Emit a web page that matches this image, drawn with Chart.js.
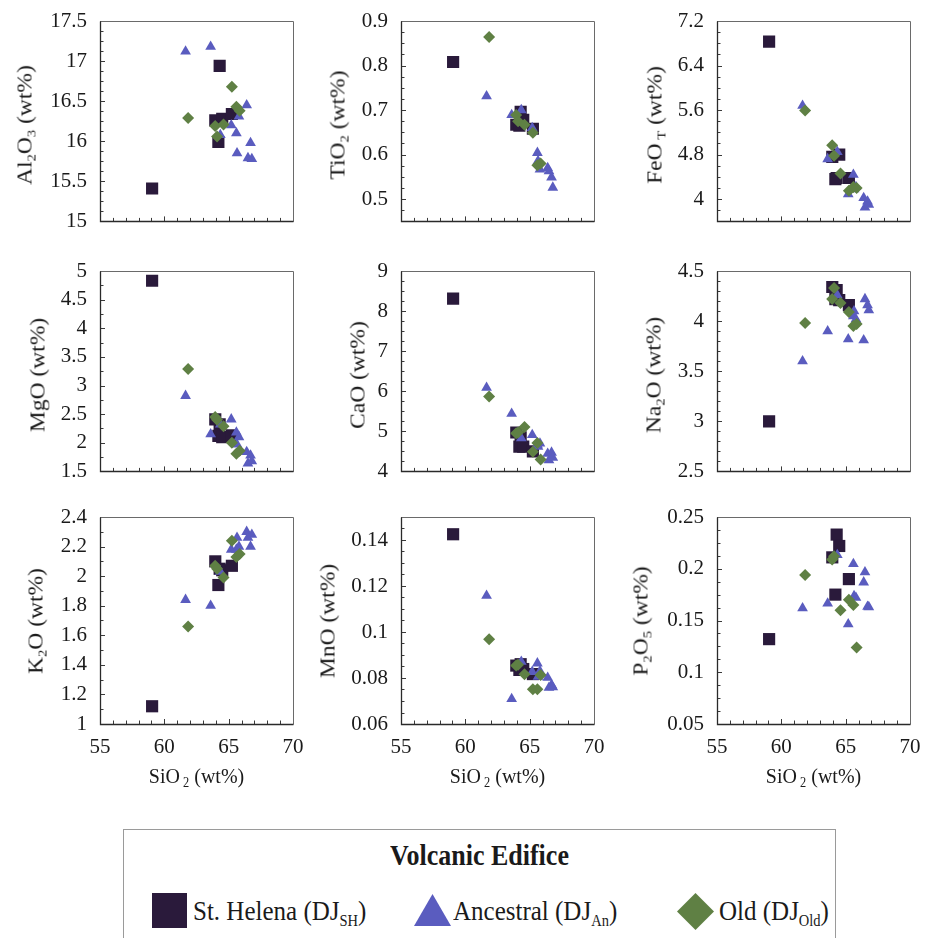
<!DOCTYPE html>
<html><head><meta charset="utf-8">
<script src="https://cdn.jsdelivr.net/npm/chart.js@4.4.1/dist/chart.umd.min.js"></script>
<style>
html,body{margin:0;padding:0;background:#fff;}
body{width:931px;height:938px;overflow:hidden;position:relative;font-family:"Liberation Serif","Times New Roman",serif;color:#1a1a1a;}
canvas.panel{position:absolute;}
.ytitle{position:absolute;white-space:nowrap;font-size:21px;line-height:1;transform:translate(-50%,-50%) rotate(-90deg) scaleX(1.12);}
.xtitle{position:absolute;white-space:nowrap;font-size:20px;line-height:1;transform:translate(-50%,-50%) scaleY(1.1);}
sub{font-size:62%;vertical-align:-0.3em;line-height:0;}
#legend{position:absolute;left:123px;top:829px;width:713px;height:140px;border:1.5px solid #9a9a9a;box-sizing:border-box;}
.ltitle{position:absolute;left:0;right:0;top:13px;text-align:center;font-weight:bold;font-size:26px;line-height:1;transform:scaleY(1.1);}
.lmark{position:absolute;}
.ltext{position:absolute;white-space:nowrap;font-size:25px;line-height:1;transform-origin:left center;transform:scaleY(1.12);}
.ltext sub{font-size:58%;vertical-align:-0.35em;}
</style>
</head><body>
<script>
// ---------- DATA ----------
const X_TICKS = [55, 60, 65, 70];

// St. Helena (DJ_SH)
const SH_SiO2  = [59.05, 63.96, 64.2, 64.3, 64.5, 65.25];
const SH_Al2O3 = [15.41, 16.26, 15.99, 16.94, 16.28, 16.34];
const SH_TiO2  = [0.808, 0.667, 0.665, 0.696, 0.678, 0.658];
const SH_FeOT  = [6.83, 4.76, 4.36, 4.38, 4.80, 4.38];
const SH_MgO   = [4.83, 2.41, 2.12, 2.32, 2.10, 2.13];
const SH_CaO   = [8.31, 4.97, 4.62, 4.85, 4.62, 4.50];
const SH_Na2O  = [3.00, 4.34, 4.22, 4.31, 4.21, 4.16];
const SH_K2O   = [1.12, 2.10, 1.94, 2.05, 2.04, 2.07];
const SH_MnO   = [0.1425, 0.0854, 0.0835, 0.0860, 0.0839, 0.0817];
const SH_P2O5  = [0.132, 0.211, 0.175, 0.233, 0.222, 0.190];

// Ancestral (DJ_An)
const AN_SiO2  = [61.65, 63.6, 64.35, 65.2, 65.6, 65.65, 65.8, 66.4, 66.5, 66.7, 66.8];
const AN_Al2O3 = [17.12, 17.18, 16.08, 16.20, 16.10, 15.85, 16.31, 16.45, 15.79, 15.98, 15.78];
const AN_TiO2  = [0.731, 0.689, 0.700, 0.660, 0.604, 0.586, 0.567, 0.570, 0.563, 0.549, 0.526];
const AN_FeOT  = [5.68, 4.72, 4.85, 4.09, 4.44, 4.18, 4.22, 4.02, 3.85, 3.96, 3.90];
const AN_MgO   = [2.82, 2.15, 2.32, 2.41, 2.18, 1.97, 2.10, 1.84, 1.64, 1.78, 1.68];
const AN_CaO   = [6.09, 5.44, 4.83, 4.91, 4.67, 4.62, 4.70, 4.44, 4.28, 4.47, 4.34];
const AN_Na2O  = [3.60, 3.90, 4.26, 3.82, 4.05, 4.10, 4.02, 3.81, 4.22, 4.16, 4.11];
const AN_K2O   = [1.84, 1.80, 2.03, 2.18, 2.18, 2.26, 2.20, 2.30, 2.26, 2.20, 2.28];
const AN_MnO   = [0.1158, 0.0709, 0.0871, 0.0827, 0.0864, 0.0806, 0.0830, 0.0801, 0.0758, 0.0770, 0.0760];
const AN_P2O5  = [0.162, 0.1665, 0.2134, 0.1464, 0.2047, 0.1736, 0.172, 0.1869, 0.1966, 0.1633, 0.163];

// Old (DJ_Old)
const OLD_SiO2  = [61.85, 63.95, 64.1, 64.6, 65.25, 65.6, 65.85];
const OLD_Al2O3 = [16.29, 16.19, 16.06, 16.21, 16.68, 16.43, 16.38];
const OLD_TiO2  = [0.864, 0.689, 0.675, 0.667, 0.649, 0.576, 0.580];
const OLD_FeOT  = [5.59, 4.97, 4.78, 4.46, 4.15, 4.22, 4.20];
const OLD_MgO   = [3.29, 2.45, 2.40, 2.29, 2.00, 1.81, 1.86];
const OLD_CaO   = [5.87, 4.95, 4.97, 5.11, 4.49, 4.71, 4.30];
const OLD_Na2O  = [3.98, 4.22, 4.33, 4.18, 4.09, 3.95, 3.97];
const OLD_K2O   = [1.66, 2.07, 2.05, 1.99, 2.24, 2.13, 2.15];
const OLD_MnO   = [0.0968, 0.0854, 0.0858, 0.0816, 0.0751, 0.0751, 0.0813];
const OLD_P2O5  = [0.194, 0.209, 0.212, 0.160, 0.170, 0.165, 0.124];

// y tick labels
const AL2O3_TICKS = [15, 15.5, 16, 16.5, 17, 17.5];
const TIO2_TICKS  = [0.5, 0.6, 0.7, 0.8, 0.9];
const FEOT_TICKS  = [4, 4.8, 5.6, 6.4, 7.2];
const MGO_TICKS   = [1.5, 2, 2.5, 3, 3.5, 4, 4.5, 5];
const CAO_TICKS   = [4, 5, 6, 7, 8, 9];
const NA2O_TICKS  = [2.5, 3, 3.5, 4, 4.5];
const K2O_TICKS   = [1, 1.2, 1.4, 1.6, 1.8, 2, 2.2, 2.4];
const MNO_TICKS   = [0.06, 0.08, 0.1, 0.12, 0.14];
const P2O5_TICKS  = [0.05, 0.1, 0.15, 0.2, 0.25];

const SERIES_NAMES = ['St. Helena (DJSH)', 'Ancestral (DJAn)', 'Old (DJOld)'];

// ---------- PANEL DEFINITIONS ----------
const PANELS = [
  {title:'Al<sub>2</sub>O<sub>3</sub> (wt%)', sh:SH_Al2O3, an:AN_Al2O3, old:OLD_Al2O3, ticks:AL2O3_TICKS, min:15,   max:17.5, minor:0.125},
  {title:'TiO<sub>2</sub> (wt%)',             sh:SH_TiO2,  an:AN_TiO2,  old:OLD_TiO2,  ticks:TIO2_TICKS,  min:0.45, max:0.9,  minor:0.025},
  {title:'FeO<sub>&nbsp;T</sub> (wt%)',       sh:SH_FeOT,  an:AN_FeOT,  old:OLD_FeOT,  ticks:FEOT_TICKS,  min:3.6,  max:7.2,  minor:0.2},
  {title:'MgO (wt%)',                         sh:SH_MgO,   an:AN_MgO,   old:OLD_MgO,   ticks:MGO_TICKS,   min:1.5,  max:5,    minor:0.25},
  {title:'CaO (wt%)',                         sh:SH_CaO,   an:AN_CaO,   old:OLD_CaO,   ticks:CAO_TICKS,   min:4,    max:9,    minor:0.25},
  {title:'Na<sub>2</sub>O (wt%)',             sh:SH_Na2O,  an:AN_Na2O,  old:OLD_Na2O,  ticks:NA2O_TICKS,  min:2.5,  max:4.5,  minor:0.1},
  {title:'K<sub>2</sub>O (wt%)',              sh:SH_K2O,   an:AN_K2O,   old:OLD_K2O,   ticks:K2O_TICKS,   min:1,    max:2.4,  minor:0.1},
  {title:'MnO (wt%)',                         sh:SH_MnO,   an:AN_MnO,   old:OLD_MnO,   ticks:MNO_TICKS,   min:0.06, max:0.15, minor:0.005},
  {title:'P<sub>2</sub>O<sub>5</sub> (wt%)',  sh:SH_P2O5,  an:AN_P2O5,  old:OLD_P2O5,  ticks:P2O5_TICKS,  min:0.05, max:0.25, minor:0.0125}
];

// ---------- LAYOUT / STYLE ----------
const COL_LEFT = [100, 401, 717];
const ROW_TOP = [21, 271, 517];
const PLOT_W = 193, PLOT_H = 207;
const Y_AXIS_W = 70, PAD_TOP = 14, PAD_RIGHT = 14;
const TITLE_OFFSET = [75, 63, 62, 62, 43, 63, 64, 73, 76];
const C_SH = '#2a1a3b', C_AN = '#5a5cbf', C_OLD = '#5f8044';
const FONT = '"Liberation Serif", "Times New Roman", serif';

const zip = (xs, ys) => xs.map((x, i) => ({x, y: ys[i]}));
const fmt = v => String(+(+v).toFixed(4));

const frameTicks = {
  id: 'frameTicks',
  beforeDatasetsDraw(chart, args, o) {
    const {ctx, chartArea: a, scales: {x, y}} = chart;
    ctx.save();
    ctx.lineWidth = 1;
    ctx.strokeStyle = '#3a3a3a';
    ctx.beginPath();
    const eps = 1e-7;
    for (let v = o.ymin; v <= o.ymax + eps; v += o.yminor) {
      const p = Math.round(y.getPixelForValue(v)) + 0.5;
      const major = o.yticks.some(t => Math.abs(t - v) < o.yminor / 10);
      ctx.moveTo(a.left, p); ctx.lineTo(a.left + (major ? 5 : 3.5), p);
    }
    for (let v = 55; v <= 70 + eps; v += 1) {
      const p = Math.round(x.getPixelForValue(v)) + 0.5;
      const major = X_TICKS.includes(Math.round(v));
      ctx.moveTo(p, a.bottom); ctx.lineTo(p, a.bottom - (major ? 5 : 3.5));
    }
    ctx.stroke();
    // frame
    ctx.beginPath();
    ctx.strokeStyle = '#6a6a6a';
    ctx.moveTo(Math.round(a.left) + 0.5, Math.round(a.top) + 0.5);
    ctx.lineTo(Math.round(a.right) + 0.5, Math.round(a.top) + 0.5);
    ctx.lineTo(Math.round(a.right) + 0.5, Math.round(a.bottom) + 0.5);
    ctx.stroke();
    ctx.beginPath();
    ctx.strokeStyle = '#2a2a2a';
    ctx.lineWidth = 1.3;
    ctx.moveTo(Math.round(a.left) + 0.5, Math.round(a.top) + 0.5);
    ctx.lineTo(Math.round(a.left) + 0.5, Math.round(a.bottom) + 0.5);
    ctx.lineTo(Math.round(a.right) + 0.5, Math.round(a.bottom) + 0.5);
    ctx.stroke();
    ctx.restore();
  }
};

PANELS.forEach((P, i) => {
  const col = i % 3, row = Math.floor(i / 3);
  const bottomRow = row === 2;
  const xAxisH = bottomRow ? 40 : 2;
  const cv = document.createElement('canvas');
  cv.className = 'panel';
  const w = Y_AXIS_W + PLOT_W + PAD_RIGHT, h = PAD_TOP + PLOT_H + xAxisH;
  cv.width = w; cv.height = h;
  cv.style.width = w + 'px'; cv.style.height = h + 'px';
  cv.style.left = (COL_LEFT[col] - Y_AXIS_W) + 'px';
  cv.style.top = (ROW_TOP[row] - PAD_TOP) + 'px';
  document.body.appendChild(cv);

  new Chart(cv, {
    type: 'scatter',
    data: {
      datasets: [
        {label: SERIES_NAMES[0], data: zip(SH_SiO2, P.sh), pointStyle: 'rect', pointRadius: 8.6,
         backgroundColor: C_SH, borderColor: C_SH, borderWidth: 0, order: 3},
        {label: SERIES_NAMES[1], data: zip(AN_SiO2, P.an), pointStyle: 'triangle', pointRadius: 6.2,
         backgroundColor: C_AN, borderColor: C_AN, borderWidth: 0, order: 2},
        {label: SERIES_NAMES[2], data: zip(OLD_SiO2, P.old), pointStyle: 'rectRot', pointRadius: 6,
         backgroundColor: C_OLD, borderColor: C_OLD, borderWidth: 0, order: 1}
      ]
    },
    options: {
      responsive: false, maintainAspectRatio: false, animation: false, events: [],
      layout: {padding: {top: PAD_TOP, right: PAD_RIGHT, left: 0, bottom: 0}},
      plugins: {
        legend: {display: false}, tooltip: {enabled: false},
        frameTicks: {ymin: P.min, ymax: P.max, yminor: P.minor, yticks: P.ticks}
      },
      scales: {
        x: {
          type: 'linear', min: 55, max: 70,
          afterBuildTicks: s => { s.ticks = X_TICKS.map(v => ({value: v})); },
          afterFit: s => { s.height = xAxisH; s.paddingLeft = 0; s.paddingRight = 0; s.paddingTop = 0; s.paddingBottom = 0; },
          grid: {display: false, drawTicks: false}, border: {display: false},
          ticks: {display: bottomRow, padding: 11, maxRotation: 0, autoSkip: false, color: '#1a1a1a',
                  font: {family: FONT, size: 21}, callback: fmt}
        },
        y: {
          type: 'linear', min: P.min, max: P.max,
          afterBuildTicks: s => { s.ticks = P.ticks.map(v => ({value: v})); },
          afterFit: s => { s.width = Y_AXIS_W; s.paddingTop = 0; s.paddingBottom = 0; s.paddingLeft = 0; s.paddingRight = 0; },
          grid: {display: false, drawTicks: false}, border: {display: false},
          ticks: {padding: 13, autoSkip: false, color: '#1a1a1a',
                  font: {family: FONT, size: 21}, callback: fmt}
        }
      }
    },
    plugins: [frameTicks]
  });

  const t = document.createElement('div');
  t.className = 'ytitle';
  t.innerHTML = P.title;
  t.style.left = (COL_LEFT[col] - TITLE_OFFSET[i]) + 'px';
  t.style.top = (ROW_TOP[row] + PLOT_H / 2) + 'px';
  document.body.appendChild(t);

  if (bottomRow) {
    const xt = document.createElement('div');
    xt.className = 'xtitle';
    xt.innerHTML = 'SiO<sub>&nbsp;2</sub> (wt%)';
    xt.style.left = (COL_LEFT[col] + PLOT_W / 2) + 'px';
    xt.style.top = '775px';
    document.body.appendChild(xt);
  }
});
</script>

<div id="legend">
  <div class="ltitle">Volcanic Edifice</div>
</div>
<div class="lmark" style="left:152px;top:893px;width:35px;height:35px;background:#2a1a3b;"></div>
<div class="ltext" style="left:193px;top:898px;">St. Helena (DJ<sub>SH</sub>)</div>
<div class="lmark" style="left:414px;top:894px;width:37px;height:32px;background:#5a5cbf;clip-path:polygon(50% 0,100% 100%,0 100%);"></div>
<div class="ltext" style="left:453px;top:898px;">Ancestral (DJ<sub>An</sub>)</div>
<div class="lmark" style="left:677px;top:893px;width:37px;height:37px;background:#5f8044;clip-path:polygon(50% 0,100% 50%,50% 100%,0 50%);"></div>
<div class="ltext" style="left:719px;top:898px;">Old (DJ<sub>Old</sub>)</div>
</body></html>
